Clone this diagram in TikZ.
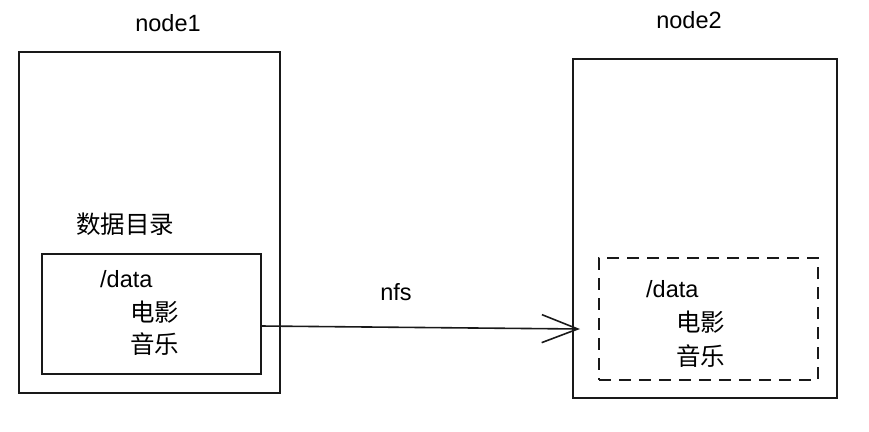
\documentclass[tikz,border=0pt]{standalone}
\usepackage{fontspec}
\setmainfont{Liberation Sans}
\newfontfamily\cjk{Noto Sans CJK SC}
\usetikzlibrary{arrows.meta}
\begin{document}
\begin{tikzpicture}[x=1pt,y=-1pt,
  box/.style={draw=black!90,line width=1.6pt,minimum width=#1,inner sep=0pt,outer sep=0pt},
  lbl/.style={anchor=base west,inner sep=0pt,font=\fontsize{23.5}{28}\selectfont},
  clbl/.style={anchor=base west,inner sep=0pt,font=\fontsize{24.5}{28}\selectfont\cjk},
  dashbox/.style={draw=black!90,line width=1.6pt,dash pattern=on 12pt off 8pt,inner sep=0pt,outer sep=0pt}]
\useasboundingbox (0,0) rectangle (869,431);
\node[box=261pt,minimum height=341pt] (b1) at (149.5,222.5) {};
\node[box=219pt,minimum height=120pt] (in1) at (151.5,314) {};
\node[box=264pt,minimum height=339pt] (b2) at (705,228.5) {};
\node[dashbox,minimum width=219pt,minimum height=122pt] (in2) at (708.5,319) {};
\node[lbl,anchor=base] (t1) at (168,31) {node1};
\node[lbl,anchor=base] (t2) at (689,28) {node2};
\node[clbl] (dir) at (76,233) {数据目录};
\node[lbl] (d1) at (100,287) {/data};
\node[clbl] (m1) at (130,321) {电影};
\node[clbl] (y1) at (130,353) {音乐};
\node[lbl] (d2) at (646,297) {/data};
\node[clbl] (m2) at (676,331) {电影};
\node[clbl] (y2) at (676,365) {音乐};
\node[lbl,anchor=base] (nfs) at (396,300) {nfs};
\draw[line width=1.6pt,black!90,-{Straight Barb[length=36pt,width=28pt,line width=1.6pt]}]
  ([yshift=-12pt]in1.east) -- ([xshift=7pt,yshift=-100.5pt]b2.west);
\end{tikzpicture}
\end{document}
